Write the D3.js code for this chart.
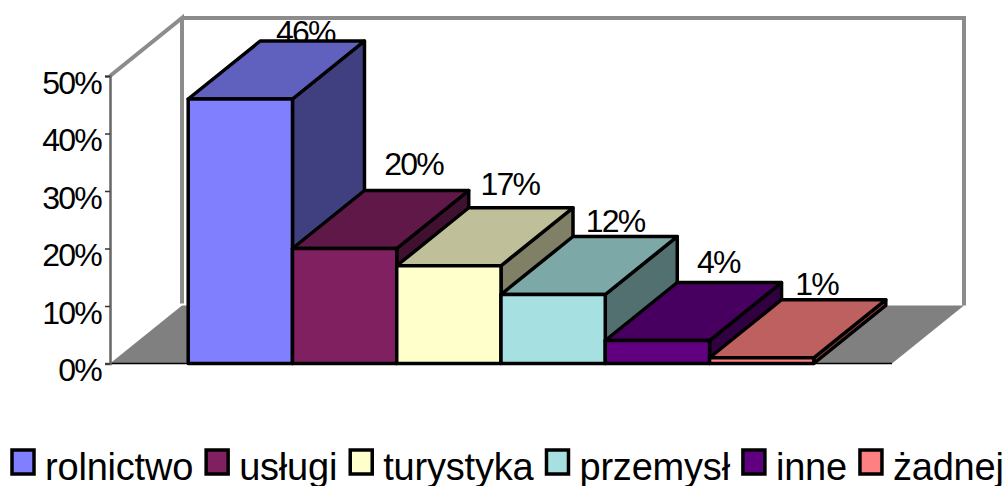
<!DOCTYPE html>
<html>
<head>
<meta charset="utf-8">
<style>
html, body { margin: 0; padding: 0; background: #fff; overflow: hidden; }
text { font-family: "Liberation Sans", Arial, sans-serif; fill: #000; }
</style>
<script src="https://d3js.org/d3.v7.min.js"></script>
</head>
<body>
<script>
const categories = ["rolnictwo", "usługi", "turystyka", "przemysł", "inne", "żadnej"];
const values = [46, 20, 17, 12, 4, 1];
const colors = ["#8080ff", "#802060", "#ffffcc", "#a6e0e0", "#600080", "#ff8080"];
const yTicks = [0, 10, 20, 30, 40, 50];

var width = 1004,
    height = 486;

// depth of the fake 3d box
var dx = 72,
    dy = -58;

// label shift from the back edge of each bar top, done by hand like the original
const labelDx = [65, 69, 61, 62, 61, 55];
const labelDy = [2, -16, -13, -5, -10, -5];

var svg = d3.select("body").append("svg")
    .attr("width", width)
    .attr("height", height)
    .style("display", "block");

var x = d3.scaleBand()
    .domain(categories)
    .range([110, 892])
    .paddingInner(0)
    .paddingOuter(0.75);

var y = d3.scaleLinear()
    .domain([0, 50])
    .range([363.5, 76]);

var line = d3.line();

// floor
svg.append("path")
    .attr("d", line([[110, y(0)], [110 + dx, y(0) + dy], [892 + dx, y(0) + dy], [892, y(0)]]) + "Z")
    .attr("fill", "#808080");

// walls
svg.append("path")
    .attr("d", line([[110, y(50)], [110 + dx, y(50) + dy], [110 + dx, y(0) + dy - 2]]))
    .attr("fill", "none").attr("stroke", "#8c8c8c").attr("stroke-width", 4);
svg.append("path")
    .attr("d", line([[110 + dx, y(50) + dy], [892 + dx, y(50) + dy], [892 + dx, y(0) + dy]]))
    .attr("fill", "none").attr("stroke", "#8c8c8c").attr("stroke-width", 4);

// front floor edge
svg.append("path")
    .attr("d", line([[110, y(0)], [892, y(0)]]))
    .attr("stroke", "#000").attr("stroke-width", 1.5);

// axis
var axis = svg.append("g")
    .attr("transform", "translate(110,0)")
    .call(d3.axisLeft(y).tickValues(yTicks).tickFormat(d => d + "%").tickSize(5).tickPadding(4));
axis.select(".domain").attr("stroke", "#666").attr("stroke-width", 2.5);
axis.selectAll("line").attr("stroke", "#333").attr("stroke-width", 1.5);
axis.selectAll("text")
    .attr("dy", 17)
    .style("font-size", "32px")
    .style("letter-spacing", "-1.8px")
    .style("font-family", '"Liberation Sans", Arial, sans-serif')
    .attr("fill", "#000");

// data labels go under the bars, the first one gets cut by its bar
svg.selectAll(".lab")
    .data(values)
    .enter().append("text")
    .attr("class", "lab")
    .attr("x", (d, i) => x(categories[i]) + x.bandwidth() / 2 + labelDx[i])
    .attr("y", (d, i) => y(d) + dy + labelDy[i])
    .attr("text-anchor", "middle")
    .style("font-size", "32px")
    .style("letter-spacing", "-1.8px")
    .text(d => d + "%");

// bars, left to right so each one covers the side of the previous
values.forEach(function(v, i) {
    var x0 = x(categories[i]),
        x1 = x0 + x.bandwidth(),
        y0 = y(0),
        y1 = y(v);
    var c = d3.rgb(colors[i]);
    var g = svg.append("g")
        .attr("stroke", "#000")
        .attr("stroke-width", 3.5)
        .attr("stroke-linejoin", "round");
    g.append("path")
        .attr("d", line([[x1, y1], [x1 + dx, y1 + dy], [x1 + dx, y0 + dy], [x1, y0]]) + "Z")
        .attr("fill", d3.rgb(c.r * 0.5, c.g * 0.5, c.b * 0.5));
    g.append("path")
        .attr("d", line([[x0, y1], [x0 + dx, y1 + dy], [x1 + dx, y1 + dy], [x1, y1]]) + "Z")
        .attr("fill", d3.rgb(c.r * 0.75, c.g * 0.75, c.b * 0.75));
    g.append("path")
        .attr("d", line([[x0, y0], [x0, y1], [x1, y1], [x1, y0]]) + "Z")
        .attr("fill", c);
});

// legend, laid out from the measured text
var lx = 12;
categories.forEach(function(name, i) {
    var g = svg.append("g");
    g.append("rect")
        .attr("x", lx).attr("y", 450)
        .attr("width", 22).attr("height", 24)
        .attr("fill", colors[i])
        .attr("stroke", "#000").attr("stroke-width", 3.5);
    var t = g.append("text")
        .attr("x", lx + 33).attr("y", 480)
        .style("font-size", "38px")
        .style("letter-spacing", "-0.2px")
        .text(name);
    lx = lx + 33 + t.node().getComputedTextLength() + 13;
});
</script>
</body>
</html>
